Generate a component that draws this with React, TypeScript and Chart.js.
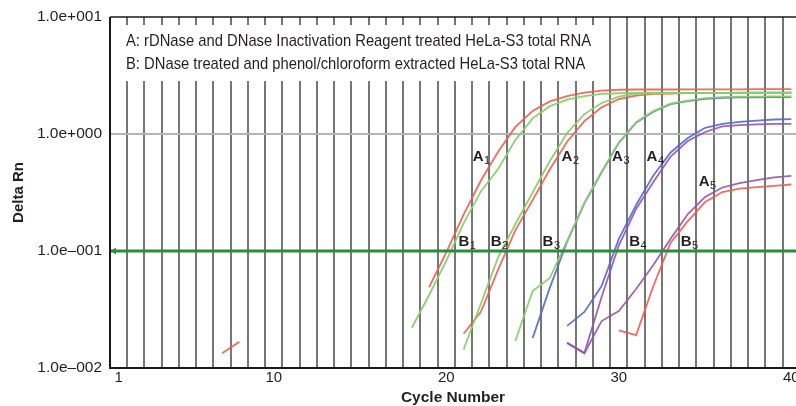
import React, { useEffect, useRef } from "react";
import { Chart, registerables } from "chart.js";

Chart.register(...registerables);

// ---------- data ----------
const xTickValues = [1, 10, 20, 30, 40];
const yTickValues = [0.01, 0.1, 1, 10];
const yTickLabels = ["1.0e\u2013002", "1.0e\u2013001", "1.0e+000", "1.0e+001"];

const legendLines = [
  "A: rDNase and DNase Inactivation Reagent treated HeLa-S3 total RNA",
  "B: DNase treated and phenol/chloroform extracted HeLa-S3 total RNA",
];

const thresholdValue = 0.1;
const referenceValue = 1;

const redStrayStart = 7;
const redStray = [0.0134, 0.0168];

const red1Start = 19;
const red1 = [0.049, 0.098, 0.205, 0.4, 0.705, 1.15, 1.57, 1.9, 2.11, 2.26, 2.35, 2.39, 2.4, 2.4, 2.4, 2.41, 2.41, 2.41, 2.41, 2.42, 2.42, 2.42];

const green1Start = 18;
const green1 = [0.0221, 0.0421, 0.0828, 0.172, 0.323, 0.502, 0.888, 1.36, 1.73, 1.97, 2.11, 2.2, 2.23, 2.24, 2.24, 2.25, 2.25, 2.25, 2.25, 2.25, 2.26, 2.26, 2.26];

const green2Start = 21;
const green2 = [0.0144, 0.0354, 0.0883, 0.17, 0.316, 0.588, 1.02, 1.48, 1.84, 2.09, 2.2, 2.23, 2.24, 2.24, 2.24, 2.24, 2.24, 2.24, 2.24, 2.24];

const red2Start = 21;
const red2 = [0.0196, 0.0302, 0.0692, 0.151, 0.272, 0.499, 0.86, 1.29, 1.69, 1.99, 2.13, 2.2, 2.22, 2.24, 2.25, 2.25, 2.26, 2.26, 2.26, 2.26];

const green3Start = 24;
const green3 = [0.017, 0.0455, 0.0588, 0.122, 0.258, 0.476, 0.846, 1.26, 1.57, 1.82, 1.93, 2.03, 2.07, 2.09, 2.09, 2.1, 2.1];

const blue3Start = 25;
const blue3 = [0.018, 0.0486, 0.12, 0.255, 0.47, 0.84, 1.25, 1.55, 1.8, 1.91, 2.0, 2.04, 2.06, 2.06, 2.07, 2.07];

const blue4Start = 27;
const blue4 = [0.0229, 0.0301, 0.0502, 0.127, 0.247, 0.442, 0.695, 0.924, 1.13, 1.22, 1.27, 1.3, 1.33, 1.34];

const purple4Start = 27;
const purple4 = [0.0164, 0.0134, 0.0404, 0.112, 0.229, 0.389, 0.642, 0.871, 1.04, 1.16, 1.19, 1.21, 1.22, 1.22];

const purple5Start = 27;
const purple5 = [0.0164, 0.0134, 0.0252, 0.0307, 0.0473, 0.076, 0.127, 0.207, 0.29, 0.349, 0.381, 0.404, 0.425, 0.438];

const red5Start = 30;
const red5 = [0.021, 0.0191, 0.0502, 0.118, 0.18, 0.262, 0.319, 0.342, 0.352, 0.36, 0.37];

// ---------- styling ----------
const RED = "rgba(240, 92, 80, 0.9)";
const GREEN = "rgba(135, 208, 105, 0.95)";
const BLUE = "rgba(84, 104, 205, 0.9)";
const PURPLE = "rgba(148, 84, 176, 0.9)";
const TEXT = "#231f20";
const FONT = '"Liberation Sans", Arial, sans-serif';

// text annotations anchored in data space (cycle, Delta Rn baseline)
const curveLabels = [
  { letter: "A", sub: "1", cycle: 21.53, value: 0.588 },
  { letter: "A", sub: "2", cycle: 26.68, value: 0.588 },
  { letter: "A", sub: "3", cycle: 29.61, value: 0.588 },
  { letter: "A", sub: "4", cycle: 31.61, value: 0.588 },
  { letter: "A", sub: "5", cycle: 34.63, value: 0.36 },
  { letter: "B", sub: "1", cycle: 20.7, value: 0.11 },
  { letter: "B", sub: "2", cycle: 22.57, value: 0.11 },
  { letter: "B", sub: "3", cycle: 25.58, value: 0.11 },
  { letter: "B", sub: "4", cycle: 30.6, value: 0.11 },
  { letter: "B", sub: "5", cycle: 33.59, value: 0.11 },
];

function toPoints(start: number, values: number[]) {
  return values.map((v, i) => ({ x: start + i, y: v }));
}

function series(label: string, start: number, values: number[], color: string) {
  return {
    label,
    data: toPoints(start, values),
    borderColor: color,
    backgroundColor: color,
    borderWidth: 1.8,
    pointRadius: 0,
    pointHoverRadius: 0,
    tension: 0,
    fill: false,
  };
}

const overlayPlugin = {
  id: "overlay",
  beforeDatasetsDraw(chart: any) {
    const { ctx, chartArea: a, scales } = chart;
    const xs = scales.x;
    const ys = scales.y;
    ctx.save();
    // vertical grid lines between cycles
    ctx.strokeStyle = "#767676";
    ctx.lineWidth = 2;
    for (let c = 1.5; c <= xs.max; c += 1) {
      const px = Math.round(xs.getPixelForValue(c));
      ctx.beginPath();
      ctx.moveTo(px, a.top);
      ctx.lineTo(px, a.bottom);
      ctx.stroke();
    }
    // reference line at 1.0
    const y1 = Math.round(ys.getPixelForValue(referenceValue));
    ctx.strokeStyle = "#b4b4b4";
    ctx.lineWidth = 2;
    ctx.beginPath();
    ctx.moveTo(a.left, y1);
    ctx.lineTo(a.right, y1);
    ctx.stroke();

    // legend box
    const boxTop = 25;
    const boxBottom = 81;
    const boxRight = 601;
    ctx.fillStyle = "#ffffff";
    ctx.fillRect(a.left + 1, boxTop, boxRight - a.left - 1, boxBottom - boxTop);
    ctx.fillStyle = TEXT;
    ctx.font = "17px " + FONT;
    ctx.textBaseline = "alphabetic";
    ctx.textAlign = "left";
    const w = ctx.measureText(legendLines[0]).width;
    const sx = 465 / w;
    const baselines = [46, 69];
    legendLines.forEach((line, i) => {
      ctx.save();
      ctx.translate(126, baselines[i]);
      ctx.scale(sx, 1);
      ctx.fillText(line, 0, 0);
      ctx.restore();
    });
    ctx.restore();
  },
  afterDatasetsDraw(chart: any) {
    const { ctx, chartArea: a, scales } = chart;
    const xs = scales.x;
    const ys = scales.y;
    ctx.save();
    // threshold line
    const yt = Math.round(ys.getPixelForValue(thresholdValue));
    ctx.strokeStyle = "#2a8c3e";
    ctx.lineWidth = 3;
    ctx.beginPath();
    ctx.moveTo(a.left, yt);
    ctx.lineTo(a.right, yt);
    ctx.stroke();
    ctx.fillStyle = "#2a8c3e";
    ctx.beginPath();
    ctx.moveTo(a.left + 1, yt);
    ctx.lineTo(a.left + 6, yt - 3.5);
    ctx.lineTo(a.left + 6, yt + 3.5);
    ctx.closePath();
    ctx.fill();

    // curve labels
    ctx.fillStyle = TEXT;
    ctx.textBaseline = "alphabetic";
    ctx.textAlign = "left";
    curveLabels.forEach((l) => {
      const px = xs.getPixelForValue(l.cycle);
      const py = ys.getPixelForValue(l.value);
      ctx.font = "bold 15px " + FONT;
      ctx.fillText(l.letter, px, py);
      const lw = ctx.measureText(l.letter).width;
      ctx.font = "11px " + FONT;
      ctx.fillText(l.sub, px + lw + 0.5, py + 3);
    });

    // axes
    ctx.strokeStyle = "#1a1a1a";
    ctx.lineWidth = 2;
    ctx.beginPath();
    ctx.moveTo(a.left, a.top);
    ctx.lineTo(a.left, a.bottom);
    ctx.lineTo(a.right, a.bottom);
    ctx.stroke();
    ctx.lineWidth = 1.5;
    ctx.beginPath();
    ctx.moveTo(a.left, a.top);
    ctx.lineTo(a.right, a.top);
    ctx.stroke();
    ctx.restore();
  },
};

export default function App() {
  const canvasRef = useRef<HTMLCanvasElement | null>(null);

  useEffect(() => {
    const canvas = canvasRef.current;
    if (!canvas) return;
    const chart = new Chart(canvas, {
      type: "line",
      data: {
        datasets: [
          series("stray", redStrayStart, redStray, RED),
          series("A1/B1 green", green1Start, green1, GREEN),
          series("A1/B1 red", red1Start, red1, RED),
          series("A2/B2 green", green2Start, green2, GREEN),
          series("A2/B2 red", red2Start, red2, RED),
          series("A3/B3 green", green3Start, green3, GREEN),
          series("A3/B3 blue", blue3Start, blue3, BLUE),
          series("A4/B4 purple", purple4Start, purple4, PURPLE),
          series("A4/B4 blue", blue4Start, blue4, BLUE),
          series("A5/B5 purple", purple5Start, purple5, PURPLE),
          series("A5/B5 red", red5Start, red5, RED),
        ],
      },
      options: {
        animation: false,
        responsive: false,
        devicePixelRatio: 1,
        layout: { padding: { top: 17, left: 0, right: 0, bottom: 0 } },
        plugins: {
          legend: { display: false },
          tooltip: { enabled: false },
        },
        events: [],
        scales: {
          x: {
            type: "linear",
            min: 0.5,
            max: 40.27,
            grid: { display: false, drawTicks: false },
            border: { display: false },
            afterBuildTicks: (s: any) => {
              s.ticks = xTickValues.map((v) => ({ value: v }));
            },
            afterFit: (s: any) => {
              s.height = 38;
              s.paddingLeft = 0;
              s.paddingRight = 0;
            },
            ticks: {
              autoSkip: false,
              maxRotation: 0,
              padding: 1,
              color: TEXT,
              font: { family: FONT, size: 15 },
              callback: (v: any) => String(v),
            },
            title: {
              display: true,
              text: "Cycle Number",
              color: TEXT,
              font: { family: FONT, size: 15.5, weight: "bold", lineHeight: 1.1 },
              padding: { top: 0, bottom: 0 },
            },
          },
          y: {
            type: "logarithmic",
            min: 0.01,
            max: 10,
            grid: { display: false, drawTicks: false },
            border: { display: false },
            afterBuildTicks: (s: any) => {
              s.ticks = yTickValues.map((v) => ({ value: v }));
            },
            afterFit: (s: any) => {
              s.width = 110;
              s.paddingTop = 0;
              s.paddingBottom = 0;
            },
            ticks: {
              autoSkip: false,
              padding: 8,
              color: TEXT,
              font: { family: FONT, size: 15.5 },
              callback: (v: any) => {
                let best = 0;
                yTickValues.forEach((t, i) => {
                  if (Math.abs(Math.log10(t) - Math.log10(v)) < Math.abs(Math.log10(yTickValues[best]) - Math.log10(v))) best = i;
                });
                return yTickLabels[best];
              },
            },
            title: {
              display: true,
              text: "Delta Rn",
              color: TEXT,
              font: { family: FONT, size: 15, weight: "bold", lineHeight: 1.2 },
              padding: { top: 10, bottom: 0 },
            },
          },
        },
      },
      plugins: [overlayPlugin],
    } as any);
    return () => chart.destroy();
  }, []);

  return (
    <div style={{ position: "absolute", left: 0, top: 0, width: 796, height: 406, background: "#fff" }}>
      <canvas ref={canvasRef} width={796} height={406} style={{ display: "block" }} />
    </div>
  );
}
